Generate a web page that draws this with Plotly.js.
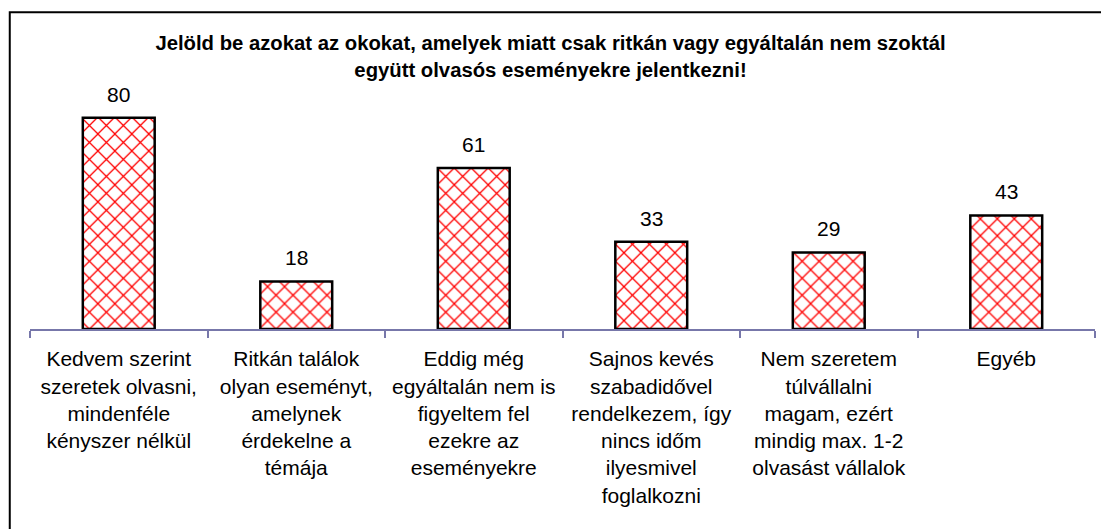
<!DOCTYPE html>
<html>
<head>
<meta charset="utf-8">
<script src="https://cdn.plot.ly/plotly-3.0.1.min.js"></script>
<style>html,body{margin:0;padding:0;background:#fff;}#chart{width:1101px;height:529px;}</style>
</head>
<body>
<div id="chart"></div>
<script>
const categories = [
  "Kedvem szerint<br>szeretek olvasni,<br>mindenféle<br>kényszer nélkül",
  "Ritkán találok<br>olyan eseményt,<br>amelynek<br>érdekelne a<br>témája",
  "Eddig még<br>egyáltalán nem is<br>figyeltem fel<br>ezekre az<br>eseményekre",
  "Sajnos kevés<br>szabadidővel<br>rendelkezem, így<br>nincs időm<br>ilyesmivel<br>foglalkozni",
  "Nem szeretem<br>túlvállalni<br>magam, ezért<br>mindig max. 1-2<br>olvasást vállalok",
  "Egyéb"
];
const values = [80, 18, 61, 33, 29, 43];
const chartTitle = "Jelöld be azokat az okokat, amelyek miatt csak ritkán vagy egyáltalán nem szoktál<br>együtt olvasós eseményekre jelentkezni!";

const FONT = "Liberation Sans, Arial, sans-serif";

const trace = {
  type: "bar",
  x: categories,
  y: values,
  width: 0.405,
  marker: {
    color: "#ffffff",
    line: {color: "#000000", width: 2.5},
    pattern: {shape: "x", fgcolor: "#ff0000", fgopacity: 1, bgcolor: "#ffffff", size: 12, solidity: 0.2, fillmode: "overlay"}
  },
  hoverinfo: "none"
};

const annotations = categories.map((c, i) => ({
  x: c, y: values[i], xref: "x", yref: "y",
  text: String(values[i]), showarrow: false,
  yanchor: "bottom", yshift: 10,
  font: {family: FONT, size: 21, color: "#000"}
}));

const layout = {
  width: 1101,
  height: 529,
  margin: {l: 30, r: 6, t: 100, b: 200},
  paper_bgcolor: "#ffffff",
  plot_bgcolor: "#ffffff",
  showlegend: false,
  title: {
    text: "<b>" + chartTitle + "</b>",
    font: {family: FONT, size: 20.3, color: "#000"},
    x: 0.5, xanchor: "center", y: 0.905, yanchor: "middle"
  },
  xaxis: {
    type: "category",
    showline: true,
    linecolor: "#7777aa",
    linewidth: 2,
    ticks: "outside",
    tickson: "boundaries",
    ticklen: 7,
    tickwidth: 2,
    tickcolor: "#7777aa",
    showgrid: false,
    zeroline: false,
    tickangle: 0,
    ticklabelstandoff: 10,
    tickfont: {family: FONT, size: 21, color: "#000"},
    automargin: false,
    fixedrange: true
  },
  yaxis: {
    range: [0, 86.7],
    visible: false,
    showgrid: false,
    zeroline: false,
    fixedrange: true
  },
  annotations: annotations,
  shapes: [{
    type: "rect", xref: "paper", yref: "paper",
    x0: -0.019, x1: 1.05, y0: -1.2, y1: 1.383,
    line: {color: "#000", width: 2}, fillcolor: "rgba(0,0,0,0)", layer: "below"
  }],
  bargap: 0.6
};

Plotly.newPlot("chart", [trace], layout, {displayModeBar: false, staticPlot: true});
</script>
</body>
</html>
